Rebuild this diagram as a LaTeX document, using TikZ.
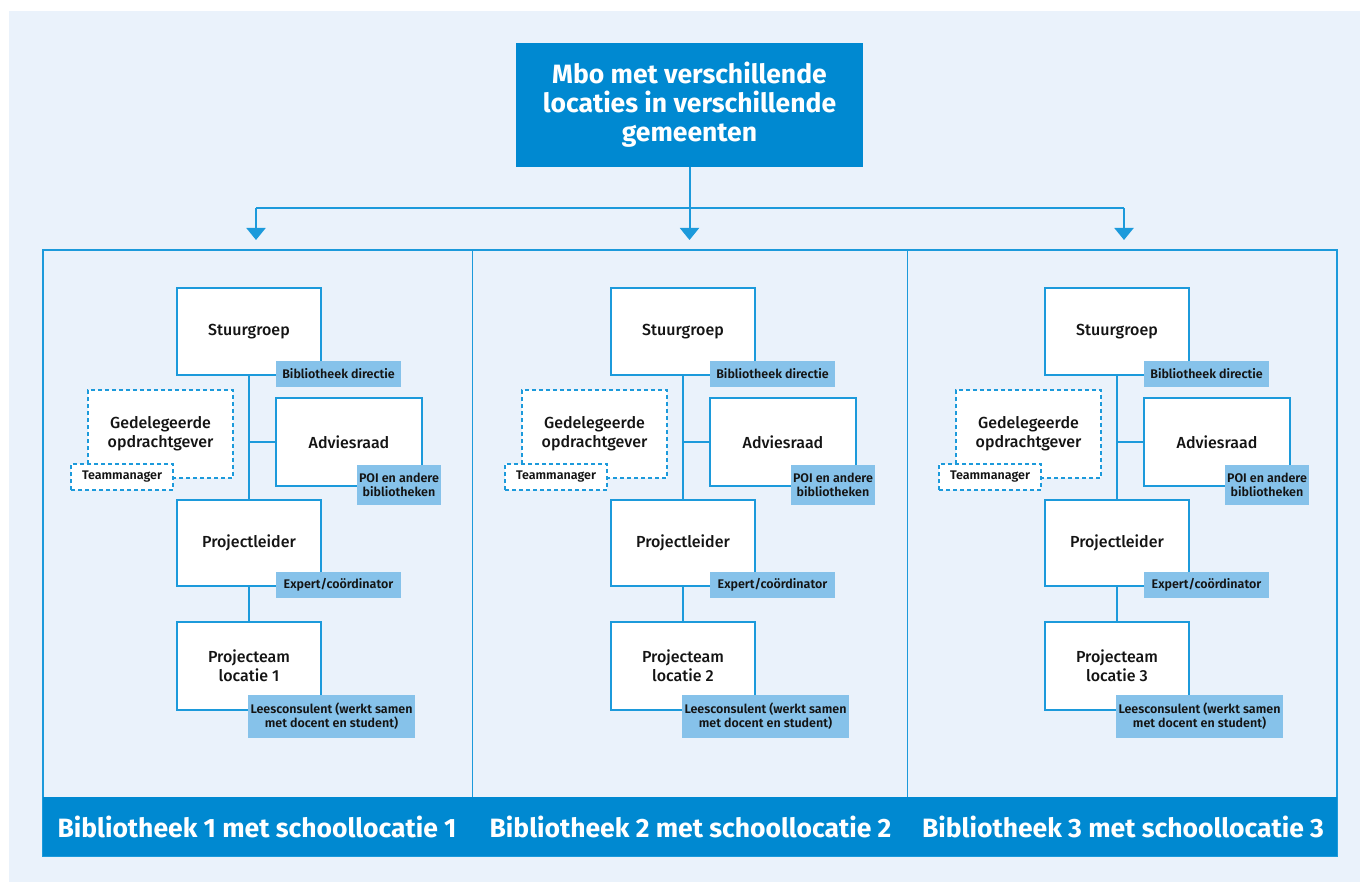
\documentclass[tikz,border=0pt]{standalone}
\usepackage{fontspec}
\setmainfont{Fira Sans}
\newfontfamily\medfont{Fira Sans Medium}
\newfontfamily\semifont{Fira Sans SemiBold}
\usetikzlibrary{arrows.meta}
\definecolor{mboblue}{HTML}{0089D1}
\definecolor{lineblue}{HTML}{1C9ADB}
\definecolor{tagblue}{HTML}{86C2EA}
\definecolor{bgblue}{HTML}{EAF2FB}
\definecolor{inkblack}{HTML}{141414}
\tikzset{
  rolbox/.style={draw=lineblue, line width=2pt, fill=white, minimum width=144pt,
    minimum height=87pt, align=center, inner sep=0pt, text=inkblack,
    font=\medfont\fontsize{16}{19}\selectfont},
  dashbox/.style={rolbox, dash pattern=on 4pt off 3pt},
  tagbox/.style={fill=tagblue, align=center, inner sep=0pt, text=inkblack,
    font=\semifont\fontsize{12.5}{14}\selectfont},
  link/.style={draw=lineblue, line width=2pt},
  pijl/.style={link, -{Triangle[width=19pt,length=12pt]}},
  bandtext/.style={text=white, font=\bfseries\fontsize{26.5}{30}\selectfont},
}
\begin{document}
\begin{tikzpicture}[x=1pt,y=-1pt]
  \useasboundingbox (0,0) rectangle (1360,882);
  \fill[white] (0,0) rectangle (1360,882);
  \fill[bgblue] (9,11) rectangle (1360,882);

  % top box
  \node[fill=mboblue, minimum width=347pt, minimum height=124pt, inner sep=0pt,
    align=center, text=white, font=\bfseries\fontsize{26.5}{29}\selectfont]
    (mbo) at (689.5,105) {Mbo met verschillende\\locaties in verschillende\\gemeenten};

  \coordinate (arr1) at (256,240);
  \coordinate (arr2) at (689.5,240);
  \coordinate (arr3) at (1124,240);
  \coordinate (bar) at (689.5,208);
  \draw[link] (bar -| arr1) -- (bar -| arr3);
  \draw[pijl] (mbo.south) -- (arr2);
  \draw[pijl] (bar -| arr1) -- (arr1);
  \draw[pijl] (bar -| arr3) -- (arr3);

  % frame and band
  \draw[draw=lineblue, line width=1.5pt] (43,250) rectangle (1337,856);
  \draw[draw=lineblue, line width=1pt] (472,250) -- (472,797);
  \draw[draw=lineblue, line width=1pt] (907,250) -- (907,797);
  \fill[mboblue] (43,797) rectangle (1337,856);
  \node[bandtext] (band1) at (257,827) {Bibliotheek 1 met schoollocatie 1};
  \node[bandtext] (band2) at (690.5,827) {Bibliotheek 2 met schoollocatie 2};
  \node[bandtext] (band3) at (1123,827) {Bibliotheek 3 met schoollocatie 3};

  % three columns
  \foreach \i/\dx in {1/0,2/434,3/868} {
    \begin{scope}[xshift=\dx pt]
      \node[rolbox] (stuur\i) at (249,331.5) {Stuurgroep};
      \node[tagbox, minimum width=125pt, minimum height=26pt] (dir\i) at (338.5,374) {Bibliotheek directie};
      \node[dashbox, minimum width=145pt, minimum height=88pt] (gedel\i) at (160.5,434) {Gedelegeerde\\opdrachtgever};
      \node[dashbox, minimum width=102pt, minimum height=26pt,
        font=\semifont\fontsize{12.5}{14}\selectfont] (team\i) at (122,477) {Teammanager};
      \node[rolbox, minimum width=146pt, minimum height=88pt] (advies\i) at (349,442) {Adviesraad};
      \node[tagbox, minimum width=84pt, minimum height=40pt] (poi\i) at (399,485) {POI en andere\\bibliotheken};
      \node[rolbox, minimum height=86pt] (leider\i) at (249,543) {Projectleider};
      \node[tagbox, minimum width=125pt, minimum height=26pt] (expert\i) at (338.5,585) {Expert/coördinator};
      \node[rolbox, minimum height=88pt] (pteam\i) at (249,666) {Projecteam\\locatie \i};
      \node[tagbox, minimum width=167pt, minimum height=43pt] (lees\i) at (331.5,716.5) {Leesconsulent (werkt samen\\met docent en student)};
    \end{scope}
    \draw[link] (stuur\i.south) -- (leider\i.north);
    \draw[link] (stuur\i.south |- advies\i.west) -- (advies\i.west);
    \draw[link] (leider\i.south) -- (pteam\i.north);
  }
\end{tikzpicture}
\end{document}
